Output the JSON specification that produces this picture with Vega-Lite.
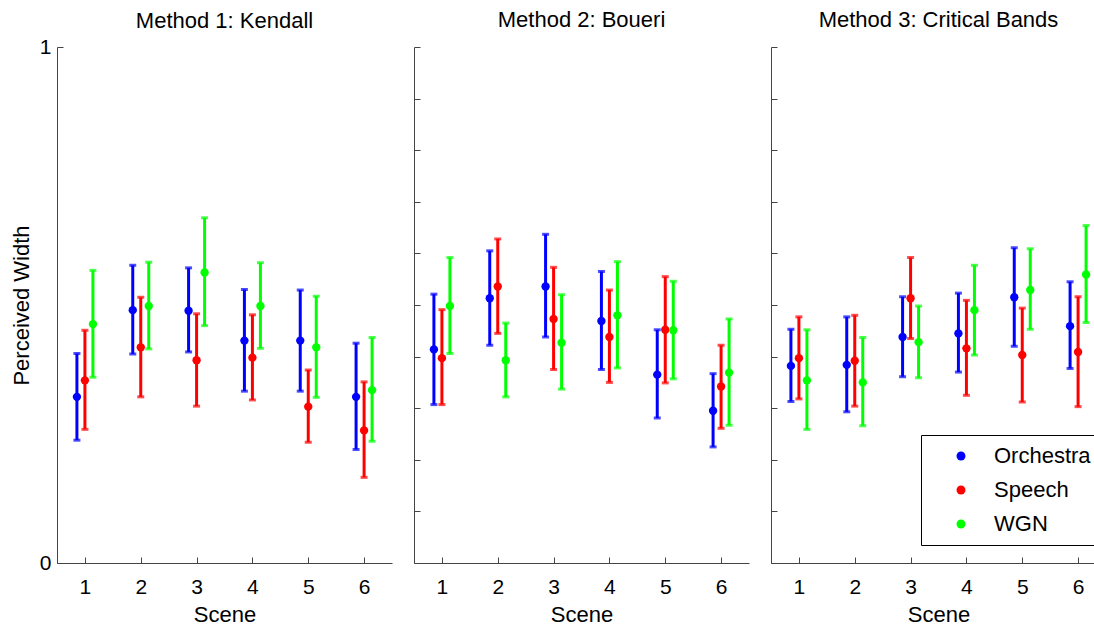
{
  "$schema": "https://vega.github.io/schema/vega-lite/v6.json",
  "background": "white",
  "padding": {"left": 10, "top": 8, "right": 0, "bottom": 0},
  "datasets": {
    "k": [
      {"scene": 1, "series": "Orchestra", "mean": 0.322, "lo": 0.238, "hi": 0.406},
      {"scene": 1, "series": "Speech", "mean": 0.354, "lo": 0.259, "hi": 0.451},
      {"scene": 1, "series": "WGN", "mean": 0.463, "lo": 0.360, "hi": 0.567},
      {"scene": 2, "series": "Orchestra", "mean": 0.490, "lo": 0.405, "hi": 0.577},
      {"scene": 2, "series": "Speech", "mean": 0.418, "lo": 0.322, "hi": 0.515},
      {"scene": 2, "series": "WGN", "mean": 0.498, "lo": 0.415, "hi": 0.583},
      {"scene": 3, "series": "Orchestra", "mean": 0.489, "lo": 0.409, "hi": 0.572},
      {"scene": 3, "series": "Speech", "mean": 0.393, "lo": 0.304, "hi": 0.483},
      {"scene": 3, "series": "WGN", "mean": 0.563, "lo": 0.460, "hi": 0.669},
      {"scene": 4, "series": "Orchestra", "mean": 0.431, "lo": 0.333, "hi": 0.530},
      {"scene": 4, "series": "Speech", "mean": 0.398, "lo": 0.316, "hi": 0.481},
      {"scene": 4, "series": "WGN", "mean": 0.498, "lo": 0.416, "hi": 0.582},
      {"scene": 5, "series": "Orchestra", "mean": 0.431, "lo": 0.333, "hi": 0.529},
      {"scene": 5, "series": "Speech", "mean": 0.303, "lo": 0.234, "hi": 0.374},
      {"scene": 5, "series": "WGN", "mean": 0.418, "lo": 0.321, "hi": 0.517},
      {"scene": 6, "series": "Orchestra", "mean": 0.322, "lo": 0.220, "hi": 0.426},
      {"scene": 6, "series": "Speech", "mean": 0.257, "lo": 0.166, "hi": 0.351},
      {"scene": 6, "series": "WGN", "mean": 0.335, "lo": 0.236, "hi": 0.437}
    ],
    "b": [
      {"scene": 1, "series": "Orchestra", "mean": 0.414, "lo": 0.307, "hi": 0.521},
      {"scene": 1, "series": "Speech", "mean": 0.397, "lo": 0.307, "hi": 0.491},
      {"scene": 1, "series": "WGN", "mean": 0.498, "lo": 0.406, "hi": 0.592},
      {"scene": 2, "series": "Orchestra", "mean": 0.513, "lo": 0.422, "hi": 0.605},
      {"scene": 2, "series": "Speech", "mean": 0.536, "lo": 0.445, "hi": 0.628},
      {"scene": 2, "series": "WGN", "mean": 0.393, "lo": 0.322, "hi": 0.465},
      {"scene": 3, "series": "Orchestra", "mean": 0.536, "lo": 0.438, "hi": 0.637},
      {"scene": 3, "series": "Speech", "mean": 0.473, "lo": 0.375, "hi": 0.573},
      {"scene": 3, "series": "WGN", "mean": 0.427, "lo": 0.337, "hi": 0.520},
      {"scene": 4, "series": "Orchestra", "mean": 0.469, "lo": 0.375, "hi": 0.565},
      {"scene": 4, "series": "Speech", "mean": 0.438, "lo": 0.350, "hi": 0.529},
      {"scene": 4, "series": "WGN", "mean": 0.480, "lo": 0.378, "hi": 0.584},
      {"scene": 5, "series": "Orchestra", "mean": 0.365, "lo": 0.281, "hi": 0.452},
      {"scene": 5, "series": "Speech", "mean": 0.452, "lo": 0.349, "hi": 0.555},
      {"scene": 5, "series": "WGN", "mean": 0.451, "lo": 0.357, "hi": 0.546},
      {"scene": 6, "series": "Orchestra", "mean": 0.295, "lo": 0.225, "hi": 0.367},
      {"scene": 6, "series": "Speech", "mean": 0.342, "lo": 0.261, "hi": 0.422},
      {"scene": 6, "series": "WGN", "mean": 0.369, "lo": 0.267, "hi": 0.473}
    ],
    "c": [
      {"scene": 1, "series": "Orchestra", "mean": 0.382, "lo": 0.313, "hi": 0.453},
      {"scene": 1, "series": "Speech", "mean": 0.397, "lo": 0.318, "hi": 0.477},
      {"scene": 1, "series": "WGN", "mean": 0.354, "lo": 0.259, "hi": 0.452},
      {"scene": 2, "series": "Orchestra", "mean": 0.384, "lo": 0.293, "hi": 0.477},
      {"scene": 2, "series": "Speech", "mean": 0.392, "lo": 0.304, "hi": 0.480},
      {"scene": 2, "series": "WGN", "mean": 0.350, "lo": 0.266, "hi": 0.437},
      {"scene": 3, "series": "Orchestra", "mean": 0.438, "lo": 0.361, "hi": 0.516},
      {"scene": 3, "series": "Speech", "mean": 0.513, "lo": 0.435, "hi": 0.592},
      {"scene": 3, "series": "WGN", "mean": 0.428, "lo": 0.359, "hi": 0.498},
      {"scene": 4, "series": "Orchestra", "mean": 0.445, "lo": 0.370, "hi": 0.523},
      {"scene": 4, "series": "Speech", "mean": 0.416, "lo": 0.325, "hi": 0.509},
      {"scene": 4, "series": "WGN", "mean": 0.490, "lo": 0.403, "hi": 0.577},
      {"scene": 5, "series": "Orchestra", "mean": 0.515, "lo": 0.420, "hi": 0.611},
      {"scene": 5, "series": "Speech", "mean": 0.403, "lo": 0.312, "hi": 0.494},
      {"scene": 5, "series": "WGN", "mean": 0.529, "lo": 0.453, "hi": 0.609},
      {"scene": 6, "series": "Orchestra", "mean": 0.459, "lo": 0.377, "hi": 0.545},
      {"scene": 6, "series": "Speech", "mean": 0.409, "lo": 0.303, "hi": 0.516},
      {"scene": 6, "series": "WGN", "mean": 0.559, "lo": 0.466, "hi": 0.654}
    ]
  },
  "spacing": 22,
  "bounds": "flush",
  "resolve": {"scale": {"x": "independent", "y": "independent", "color": "shared"}},
  "hconcat": [
    {
      "width": 335, "height": 516,
      "title": {"text": "Method 1: Kendall", "dy": 12},
      "data": {"name": "k"},
      "encoding": {
        "x": {"field": "scene", "type": "quantitative", "scale": {"domain": [0.5, 6.5], "nice": false, "zero": false}, "axis": {"values": [1, 2, 3, 4, 5, 6], "format": "d"}, "title": "Scene"},
        "color": {"field": "series", "type": "nominal", "scale": {"domain": ["Orchestra", "Speech", "WGN"], "range": ["#0000ff", "#ff0000", "#00ff00"]}, "legend": {"title": null, "orient": "none", "legendX": 864, "legendY": 388, "padding": 10, "symbolOffset": 19, "labelOffset": 22, "rowPadding": 12, "strokeColor": "#000000", "fillColor": "#ffffff", "symbolSize": 80, "symbolType": "circle", "symbolStrokeWidth": 0, "symbolOpacity": 1, "labelFontSize": 22, "labelFont": "Liberation Sans", "labelColor": "#000000", "labelLimit": 0}}
      },
      "layer": [
        {"transform": [{"filter": "datum.series === 'Orchestra'"}], "layer": [
          {"mark": {"type": "rule", "strokeWidth": 3, "xOffset": -8}, "encoding": {"y": {"field": "lo", "type": "quantitative", "scale": {"domain": [0, 1], "nice": false, "zero": false}, "axis": {"values": [0, 0.1, 0.2, 0.3, 0.4, 0.5, 0.6, 0.7, 0.8, 0.9, 1], "format": "d", "labelExpr": "datum.value == 0 || datum.value == 1 ? datum.label : ''"}, "title": "Perceived Width"}, "y2": {"field": "hi"}}},
          {"transform": [{"fold": ["lo", "hi"], "as": ["end", "val"]}], "mark": {"type": "tick", "orient": "horizontal", "size": 7, "thickness": 3, "xOffset": -8}, "encoding": {"y": {"field": "val", "type": "quantitative", "scale": {"domain": [0, 1], "nice": false, "zero": false}, "axis": {"values": [0, 0.1, 0.2, 0.3, 0.4, 0.5, 0.6, 0.7, 0.8, 0.9, 1], "format": "d", "labelExpr": "datum.value == 0 || datum.value == 1 ? datum.label : ''"}, "title": "Perceived Width"}}},
          {"mark": {"type": "point", "filled": true, "size": 70, "opacity": 1, "xOffset": -8}, "encoding": {"y": {"field": "mean", "type": "quantitative", "scale": {"domain": [0, 1], "nice": false, "zero": false}, "axis": {"values": [0, 0.1, 0.2, 0.3, 0.4, 0.5, 0.6, 0.7, 0.8, 0.9, 1], "format": "d", "labelExpr": "datum.value == 0 || datum.value == 1 ? datum.label : ''"}, "title": "Perceived Width"}}}
        ]},
        {"transform": [{"filter": "datum.series === 'Speech'"}], "layer": [
          {"mark": {"type": "rule", "strokeWidth": 3, "xOffset": 0}, "encoding": {"y": {"field": "lo", "type": "quantitative", "scale": {"domain": [0, 1], "nice": false, "zero": false}, "axis": {"values": [0, 0.1, 0.2, 0.3, 0.4, 0.5, 0.6, 0.7, 0.8, 0.9, 1], "format": "d", "labelExpr": "datum.value == 0 || datum.value == 1 ? datum.label : ''"}, "title": "Perceived Width"}, "y2": {"field": "hi"}}},
          {"transform": [{"fold": ["lo", "hi"], "as": ["end", "val"]}], "mark": {"type": "tick", "orient": "horizontal", "size": 7, "thickness": 3, "xOffset": 0}, "encoding": {"y": {"field": "val", "type": "quantitative", "scale": {"domain": [0, 1], "nice": false, "zero": false}, "axis": {"values": [0, 0.1, 0.2, 0.3, 0.4, 0.5, 0.6, 0.7, 0.8, 0.9, 1], "format": "d", "labelExpr": "datum.value == 0 || datum.value == 1 ? datum.label : ''"}, "title": "Perceived Width"}}},
          {"mark": {"type": "point", "filled": true, "size": 70, "opacity": 1, "xOffset": 0}, "encoding": {"y": {"field": "mean", "type": "quantitative", "scale": {"domain": [0, 1], "nice": false, "zero": false}, "axis": {"values": [0, 0.1, 0.2, 0.3, 0.4, 0.5, 0.6, 0.7, 0.8, 0.9, 1], "format": "d", "labelExpr": "datum.value == 0 || datum.value == 1 ? datum.label : ''"}, "title": "Perceived Width"}}}
        ]},
        {"transform": [{"filter": "datum.series === 'WGN'"}], "layer": [
          {"mark": {"type": "rule", "strokeWidth": 3, "xOffset": 8}, "encoding": {"y": {"field": "lo", "type": "quantitative", "scale": {"domain": [0, 1], "nice": false, "zero": false}, "axis": {"values": [0, 0.1, 0.2, 0.3, 0.4, 0.5, 0.6, 0.7, 0.8, 0.9, 1], "format": "d", "labelExpr": "datum.value == 0 || datum.value == 1 ? datum.label : ''"}, "title": "Perceived Width"}, "y2": {"field": "hi"}}},
          {"transform": [{"fold": ["lo", "hi"], "as": ["end", "val"]}], "mark": {"type": "tick", "orient": "horizontal", "size": 7, "thickness": 3, "xOffset": 8}, "encoding": {"y": {"field": "val", "type": "quantitative", "scale": {"domain": [0, 1], "nice": false, "zero": false}, "axis": {"values": [0, 0.1, 0.2, 0.3, 0.4, 0.5, 0.6, 0.7, 0.8, 0.9, 1], "format": "d", "labelExpr": "datum.value == 0 || datum.value == 1 ? datum.label : ''"}, "title": "Perceived Width"}}},
          {"mark": {"type": "point", "filled": true, "size": 70, "opacity": 1, "xOffset": 8}, "encoding": {"y": {"field": "mean", "type": "quantitative", "scale": {"domain": [0, 1], "nice": false, "zero": false}, "axis": {"values": [0, 0.1, 0.2, 0.3, 0.4, 0.5, 0.6, 0.7, 0.8, 0.9, 1], "format": "d", "labelExpr": "datum.value == 0 || datum.value == 1 ? datum.label : ''"}, "title": "Perceived Width"}}}
        ]}
      ]
    },
    {
      "width": 335, "height": 516,
      "title": {"text": "Method 2: Boueri"},
      "data": {"name": "b"},
      "encoding": {
        "x": {"field": "scene", "type": "quantitative", "scale": {"domain": [0.5, 6.5], "nice": false, "zero": false}, "axis": {"values": [1, 2, 3, 4, 5, 6], "format": "d"}, "title": "Scene"},
        "color": {"field": "series", "type": "nominal", "scale": {"domain": ["Orchestra", "Speech", "WGN"], "range": ["#0000ff", "#ff0000", "#00ff00"]}, "legend": {"title": null, "orient": "none", "legendX": 864, "legendY": 388, "padding": 10, "symbolOffset": 19, "labelOffset": 22, "rowPadding": 12, "strokeColor": "#000000", "fillColor": "#ffffff", "symbolSize": 80, "symbolType": "circle", "symbolStrokeWidth": 0, "symbolOpacity": 1, "labelFontSize": 22, "labelFont": "Liberation Sans", "labelColor": "#000000", "labelLimit": 0}}
      },
      "layer": [
        {"transform": [{"filter": "datum.series === 'Orchestra'"}], "layer": [
          {"mark": {"type": "rule", "strokeWidth": 3, "xOffset": -8}, "encoding": {"y": {"field": "lo", "type": "quantitative", "scale": {"domain": [0, 1], "nice": false, "zero": false}, "axis": {"values": [0, 0.1, 0.2, 0.3, 0.4, 0.5, 0.6, 0.7, 0.8, 0.9, 1], "labels": false}, "title": null}, "y2": {"field": "hi"}}},
          {"transform": [{"fold": ["lo", "hi"], "as": ["end", "val"]}], "mark": {"type": "tick", "orient": "horizontal", "size": 7, "thickness": 3, "xOffset": -8}, "encoding": {"y": {"field": "val", "type": "quantitative", "scale": {"domain": [0, 1], "nice": false, "zero": false}, "axis": {"values": [0, 0.1, 0.2, 0.3, 0.4, 0.5, 0.6, 0.7, 0.8, 0.9, 1], "labels": false}, "title": null}}},
          {"mark": {"type": "point", "filled": true, "size": 70, "opacity": 1, "xOffset": -8}, "encoding": {"y": {"field": "mean", "type": "quantitative", "scale": {"domain": [0, 1], "nice": false, "zero": false}, "axis": {"values": [0, 0.1, 0.2, 0.3, 0.4, 0.5, 0.6, 0.7, 0.8, 0.9, 1], "labels": false}, "title": null}}}
        ]},
        {"transform": [{"filter": "datum.series === 'Speech'"}], "layer": [
          {"mark": {"type": "rule", "strokeWidth": 3, "xOffset": 0}, "encoding": {"y": {"field": "lo", "type": "quantitative", "scale": {"domain": [0, 1], "nice": false, "zero": false}, "axis": {"values": [0, 0.1, 0.2, 0.3, 0.4, 0.5, 0.6, 0.7, 0.8, 0.9, 1], "labels": false}, "title": null}, "y2": {"field": "hi"}}},
          {"transform": [{"fold": ["lo", "hi"], "as": ["end", "val"]}], "mark": {"type": "tick", "orient": "horizontal", "size": 7, "thickness": 3, "xOffset": 0}, "encoding": {"y": {"field": "val", "type": "quantitative", "scale": {"domain": [0, 1], "nice": false, "zero": false}, "axis": {"values": [0, 0.1, 0.2, 0.3, 0.4, 0.5, 0.6, 0.7, 0.8, 0.9, 1], "labels": false}, "title": null}}},
          {"mark": {"type": "point", "filled": true, "size": 70, "opacity": 1, "xOffset": 0}, "encoding": {"y": {"field": "mean", "type": "quantitative", "scale": {"domain": [0, 1], "nice": false, "zero": false}, "axis": {"values": [0, 0.1, 0.2, 0.3, 0.4, 0.5, 0.6, 0.7, 0.8, 0.9, 1], "labels": false}, "title": null}}}
        ]},
        {"transform": [{"filter": "datum.series === 'WGN'"}], "layer": [
          {"mark": {"type": "rule", "strokeWidth": 3, "xOffset": 8}, "encoding": {"y": {"field": "lo", "type": "quantitative", "scale": {"domain": [0, 1], "nice": false, "zero": false}, "axis": {"values": [0, 0.1, 0.2, 0.3, 0.4, 0.5, 0.6, 0.7, 0.8, 0.9, 1], "labels": false}, "title": null}, "y2": {"field": "hi"}}},
          {"transform": [{"fold": ["lo", "hi"], "as": ["end", "val"]}], "mark": {"type": "tick", "orient": "horizontal", "size": 7, "thickness": 3, "xOffset": 8}, "encoding": {"y": {"field": "val", "type": "quantitative", "scale": {"domain": [0, 1], "nice": false, "zero": false}, "axis": {"values": [0, 0.1, 0.2, 0.3, 0.4, 0.5, 0.6, 0.7, 0.8, 0.9, 1], "labels": false}, "title": null}}},
          {"mark": {"type": "point", "filled": true, "size": 70, "opacity": 1, "xOffset": 8}, "encoding": {"y": {"field": "mean", "type": "quantitative", "scale": {"domain": [0, 1], "nice": false, "zero": false}, "axis": {"values": [0, 0.1, 0.2, 0.3, 0.4, 0.5, 0.6, 0.7, 0.8, 0.9, 1], "labels": false}, "title": null}}}
        ]}
      ]
    },
    {
      "width": 323, "height": 516,
      "title": {"text": "Method 3: Critical Bands", "dx": 6},
      "data": {"name": "c"},
      "encoding": {
        "x": {"field": "scene", "type": "quantitative", "scale": {"domain": [0.5, 6.285], "nice": false, "zero": false}, "axis": {"values": [1, 2, 3, 4, 5, 6], "format": "d", "titleX": 167.5}, "title": "Scene"},
        "color": {"field": "series", "type": "nominal", "scale": {"domain": ["Orchestra", "Speech", "WGN"], "range": ["#0000ff", "#ff0000", "#00ff00"]}, "legend": {"title": null, "orient": "none", "legendX": 864, "legendY": 388, "padding": 10, "symbolOffset": 19, "labelOffset": 22, "rowPadding": 12, "strokeColor": "#000000", "fillColor": "#ffffff", "symbolSize": 80, "symbolType": "circle", "symbolStrokeWidth": 0, "symbolOpacity": 1, "labelFontSize": 22, "labelFont": "Liberation Sans", "labelColor": "#000000", "labelLimit": 0}}
      },
      "layer": [
        {"transform": [{"filter": "datum.series === 'Orchestra'"}], "layer": [
          {"mark": {"type": "rule", "strokeWidth": 3, "xOffset": -8}, "encoding": {"y": {"field": "lo", "type": "quantitative", "scale": {"domain": [0, 1], "nice": false, "zero": false}, "axis": {"values": [0, 0.1, 0.2, 0.3, 0.4, 0.5, 0.6, 0.7, 0.8, 0.9, 1], "labels": false}, "title": null}, "y2": {"field": "hi"}}},
          {"transform": [{"fold": ["lo", "hi"], "as": ["end", "val"]}], "mark": {"type": "tick", "orient": "horizontal", "size": 7, "thickness": 3, "xOffset": -8}, "encoding": {"y": {"field": "val", "type": "quantitative", "scale": {"domain": [0, 1], "nice": false, "zero": false}, "axis": {"values": [0, 0.1, 0.2, 0.3, 0.4, 0.5, 0.6, 0.7, 0.8, 0.9, 1], "labels": false}, "title": null}}},
          {"mark": {"type": "point", "filled": true, "size": 70, "opacity": 1, "xOffset": -8}, "encoding": {"y": {"field": "mean", "type": "quantitative", "scale": {"domain": [0, 1], "nice": false, "zero": false}, "axis": {"values": [0, 0.1, 0.2, 0.3, 0.4, 0.5, 0.6, 0.7, 0.8, 0.9, 1], "labels": false}, "title": null}}}
        ]},
        {"transform": [{"filter": "datum.series === 'Speech'"}], "layer": [
          {"mark": {"type": "rule", "strokeWidth": 3, "xOffset": 0}, "encoding": {"y": {"field": "lo", "type": "quantitative", "scale": {"domain": [0, 1], "nice": false, "zero": false}, "axis": {"values": [0, 0.1, 0.2, 0.3, 0.4, 0.5, 0.6, 0.7, 0.8, 0.9, 1], "labels": false}, "title": null}, "y2": {"field": "hi"}}},
          {"transform": [{"fold": ["lo", "hi"], "as": ["end", "val"]}], "mark": {"type": "tick", "orient": "horizontal", "size": 7, "thickness": 3, "xOffset": 0}, "encoding": {"y": {"field": "val", "type": "quantitative", "scale": {"domain": [0, 1], "nice": false, "zero": false}, "axis": {"values": [0, 0.1, 0.2, 0.3, 0.4, 0.5, 0.6, 0.7, 0.8, 0.9, 1], "labels": false}, "title": null}}},
          {"mark": {"type": "point", "filled": true, "size": 70, "opacity": 1, "xOffset": 0}, "encoding": {"y": {"field": "mean", "type": "quantitative", "scale": {"domain": [0, 1], "nice": false, "zero": false}, "axis": {"values": [0, 0.1, 0.2, 0.3, 0.4, 0.5, 0.6, 0.7, 0.8, 0.9, 1], "labels": false}, "title": null}}}
        ]},
        {"transform": [{"filter": "datum.series === 'WGN'"}], "layer": [
          {"mark": {"type": "rule", "strokeWidth": 3, "xOffset": 8}, "encoding": {"y": {"field": "lo", "type": "quantitative", "scale": {"domain": [0, 1], "nice": false, "zero": false}, "axis": {"values": [0, 0.1, 0.2, 0.3, 0.4, 0.5, 0.6, 0.7, 0.8, 0.9, 1], "labels": false}, "title": null}, "y2": {"field": "hi"}}},
          {"transform": [{"fold": ["lo", "hi"], "as": ["end", "val"]}], "mark": {"type": "tick", "orient": "horizontal", "size": 7, "thickness": 3, "xOffset": 8}, "encoding": {"y": {"field": "val", "type": "quantitative", "scale": {"domain": [0, 1], "nice": false, "zero": false}, "axis": {"values": [0, 0.1, 0.2, 0.3, 0.4, 0.5, 0.6, 0.7, 0.8, 0.9, 1], "labels": false}, "title": null}}},
          {"mark": {"type": "point", "filled": true, "size": 70, "opacity": 1, "xOffset": 8}, "encoding": {"y": {"field": "mean", "type": "quantitative", "scale": {"domain": [0, 1], "nice": false, "zero": false}, "axis": {"values": [0, 0.1, 0.2, 0.3, 0.4, 0.5, 0.6, 0.7, 0.8, 0.9, 1], "labels": false}, "title": null}}}
        ]}
      ]
    }
  ],
  "config": {
    "font": "Liberation Sans",
    "view": {"stroke": null},
    "axis": {"grid": false, "domainColor": "#444444", "tickColor": "#444444", "domainWidth": 1, "tickWidth": 1, "tickSize": -6, "labelColor": "#000000", "titleColor": "#000000", "labelFontSize": 21, "titleFontSize": 22, "titleFontWeight": "normal", "labelFont": "Liberation Sans", "titleFont": "Liberation Sans", "labelFlush": false, "labelOverlap": false},
    "axisX": {"labelPadding": 19, "titlePadding": 7},
    "axisY": {"labelPadding": 12, "titlePadding": 6},
    "title": {"fontSize": 22, "fontWeight": "normal", "font": "Liberation Sans", "color": "#000000", "anchor": "middle", "offset": 15, "frame": "group"}
  }
}
